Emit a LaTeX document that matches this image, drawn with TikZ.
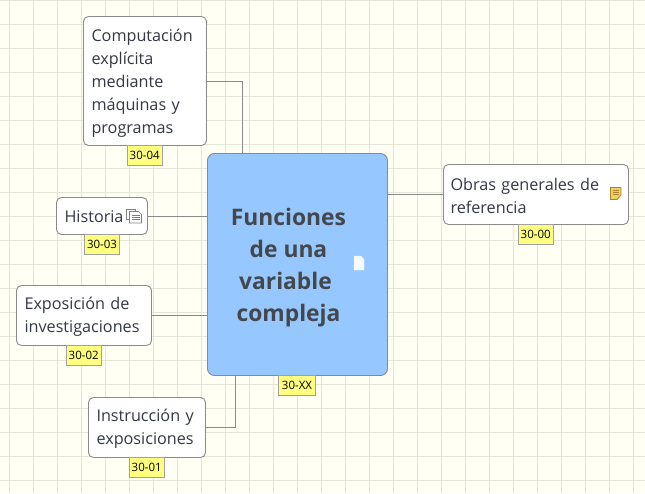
\documentclass[tikz,border=0pt]{standalone}
\usepackage{fontspec}
\setmainfont{Open Sans}
\definecolor{bgc}{HTML}{FFFFF3}
\definecolor{gridc}{HTML}{E2E7D8}
\definecolor{edgec}{HTML}{8A8A8A}
\definecolor{mainc}{HTML}{96C8FF}
\definecolor{tagc}{HTML}{FFFF7F}
\definecolor{txt}{HTML}{333844}
\definecolor{titlec}{HTML}{44474C}
\definecolor{notec}{HTML}{F0D060}
\definecolor{notee}{HTML}{A8842A}
\tikzset{
  x=1pt,y=-1pt,
  topic/.style={draw=edgec,fill=white,line width=0.9pt,rounded corners=5pt,inner sep=0pt,
    font=\fontsize{16.2}{23}\selectfont,text=txt,align=left,
    execute at begin node={\rule{0pt}{#1}}},
  topic/.default=14.5pt,
  tag/.style={draw=edgec!80,fill=tagc,line width=0.9pt,inner sep=0pt,
    font=\fontsize{11.5}{13}\selectfont,text=black},
  link/.style={draw=edgec,line width=0.9pt},
}
\begin{document}
\begin{tikzpicture}
\useasboundingbox (0,0) rectangle (645,493);
\fill[bgc] (0,0) rectangle (645,493);
\foreach \k in {0,...,26} \draw[gridc,line width=1pt] ({9.5+24*\k},0) -- ({9.5+24*\k},493);
\foreach \k in {0,...,20} \draw[gridc,line width=1pt] (0,{0.5+24*\k}) -- (645,{0.5+24*\k});

\node[draw=edgec,fill=mainc,line width=0.9pt,rounded corners=7pt,minimum width=180pt,minimum height=222pt,inner sep=0pt] (main) at (297.5,264.5) {};

\node[topic=17pt,minimum width=123pt,minimum height=129pt,text width=107pt] (n4) at (145,81) {Computación\\explícita\\mediante\\máquinas y\\programas};
\node[topic=13pt,minimum width=91pt,minimum height=37pt,text width=75pt] (n3) at (102,216) {Historia};
\node[topic,minimum width=135pt,minimum height=60pt,text width=119pt] (n2) at (84,315.5) {Exposición de\\investigaciones};
\node[topic,minimum width=117pt,minimum height=60pt,text width=101pt] (n1) at (147,427.5) {Instrucción y\\exposiciones};
\node[topic,minimum width=185pt,minimum height=60pt,text width=171pt] (n0) at (536,194.5) {Obras generales de\\referencia};

\coordinate (c4) at (242.5,153.5);
\coordinate (c1) at (235,375.5);
\draw[link] (n4.east) -| (c4);
\draw[link] (n3.east) -- (main.west |- n3.east);
\draw[link] (n2.east) -- (main.west |- n2.east);
\draw[link] (n1.east) -| (c1);
\draw[link] (main.east |- n0.west) -- (n0.west);

\node[tag,minimum width=34.5pt,minimum height=20pt] (t4) at (144.7,155) {30-04};
\node[tag,minimum width=35pt,minimum height=19.5pt] (t3) at (102,244.5) {30-03};
\node[tag,minimum width=34.5pt,minimum height=20pt] (t2) at (83.7,355) {30-02};
\node[tag,minimum width=34.5pt,minimum height=20pt] (t1) at (146.7,467) {30-01};
\node[tag,minimum width=37pt,minimum height=19.5pt] (tx) at (297,385.5) {30-XX};
\node[tag,minimum width=34.5pt,minimum height=20pt] (t0) at (535.7,234) {30-00};

\node[font=\fontsize{22.8}{32}\selectfont\bfseries,text=titlec,align=center,inner sep=0pt] (title) at (288.5,268)
  {Funciones\\de una\\\hspace*{-6pt}variable\\compleja};

\fill[white!92!mainc,draw=white!70!mainc,line width=0.4pt] (354,256) -- (361,256) -- (364,259.5) -- (364,270) -- (354,270) -- cycle;
\draw[gray,fill=white,line width=0.7pt] (126.5,209) -- (135,209) -- (135,219) -- (126.5,219) -- cycle;
\draw[gray,fill=white,line width=0.7pt] (129.5,211.5) -- (138.5,211.5) -- (141.5,214.5) -- (141.5,223) -- (129.5,223) -- cycle;
\foreach \yy in {215.5,217.5,219.5} \draw[gray,line width=0.6pt] (132,\yy) -- (139.5,\yy);
\draw[notee,fill=notec,line width=0.8pt] (610.5,187.5) -- (621,187.5) -- (621,195) -- (617,199.5) -- (610.5,199.5) -- cycle;
\foreach \yy in {190.5,192.5,194.5} \draw[notee,line width=0.6pt] (612.5,\yy) -- (619,\yy);
\end{tikzpicture}
\end{document}
